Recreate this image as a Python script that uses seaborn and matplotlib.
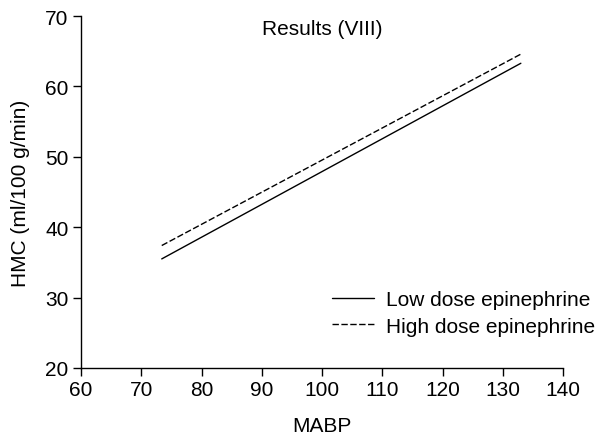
import pandas as pd
import seaborn as sns
import matplotlib.pyplot as plt

# regression lines (endpoints)
mabp = [73.4, 133.0]
low_dose = [35.5, 63.3]
high_dose = [37.4, 64.6]
series_names = ["Low dose epinephrine", "High dose epinephrine"]

df = pd.DataFrame({
    "MABP": mabp + mabp,
    "HMC": low_dose + high_dose,
    "group": [series_names[0]] * 2 + [series_names[1]] * 2,
})

sns.set_theme(style="ticks")
plt.rcParams["font.family"] = ["Liberation Sans", "DejaVu Sans"]
plt.rcParams["text.color"] = "black"
plt.rcParams["axes.labelcolor"] = "black"

fs = 15

fig = plt.figure(figsize=(6.16, 4.39), dpi=100)
ax = fig.add_axes([0.1315, 0.1595, 0.7825, 0.8015])

sns.lineplot(data=df, x="MABP", y="HMC", style="group", style_order=series_names,
             dashes={series_names[0]: "", series_names[1]: (4.6, 1.8)},
             color="black", linewidth=1.0, ax=ax)

ax.set_xlim(60, 140)
ax.set_ylim(20, 70)
ax.set_xticks(range(60, 141, 10))
ax.set_yticks(range(20, 71, 10))
ax.tick_params(labelsize=fs, length=6, width=1, color="black", labelcolor="black", pad=3)
for s in ["left", "bottom"]:
    ax.spines[s].set_linewidth(1)
    ax.spines[s].set_color("black")
sns.despine(ax=ax)

ax.set_xlabel("MABP", fontsize=fs, labelpad=12)
ax.set_ylabel("HMC (ml/100 g/min)", fontsize=fs, labelpad=11)
ax.text(0.5, 0.949, "Results (VIII)", transform=ax.transAxes, ha="center", va="baseline", fontsize=fs)

leg = ax.legend(loc="upper left", bbox_to_anchor=(0.539, 0.336), bbox_transform=fig.transFigure,
                frameon=False, fontsize=fs, handlelength=2.0, handletextpad=0.58,
                labelspacing=0.35, borderpad=0, borderaxespad=0)
for line in leg.get_lines():
    line.set_linewidth(1.0)

fig.savefig("out.png", dpi=100)
